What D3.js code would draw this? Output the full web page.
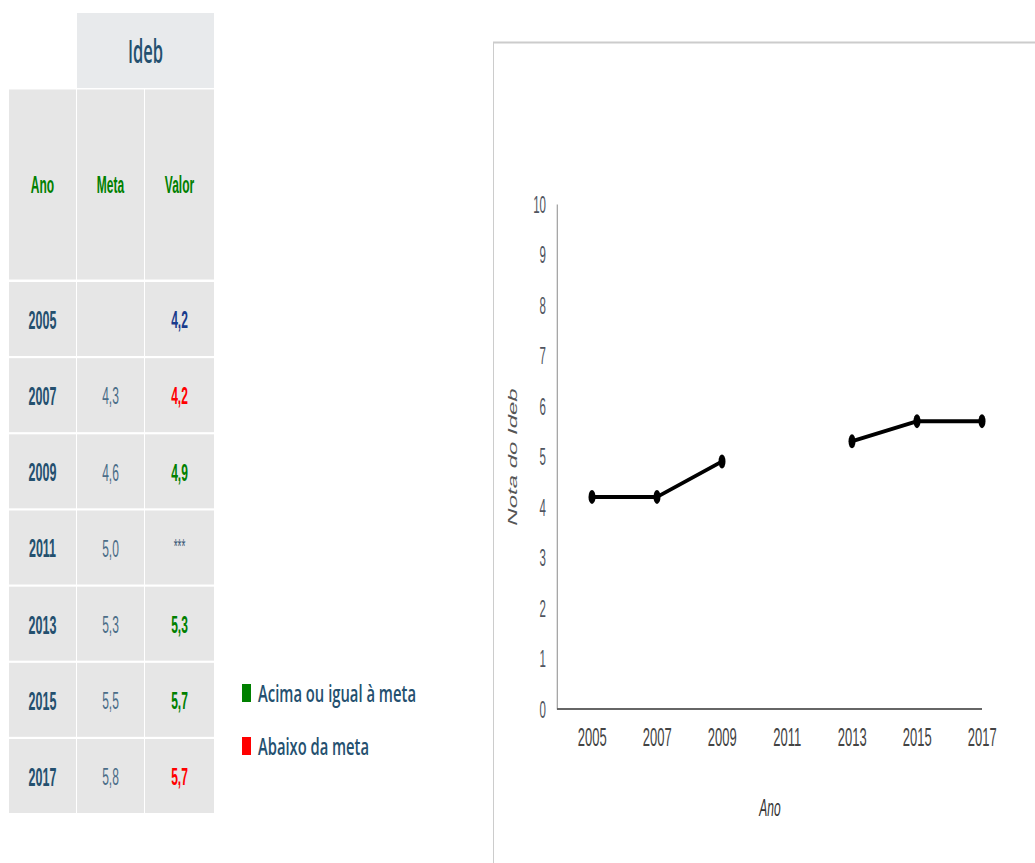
<!DOCTYPE html>
<html><head><meta charset="utf-8">
<script src="https://cdn.jsdelivr.net/npm/d3@7"></script>
<style>html,body{margin:0;padding:0;background:#fff;overflow:hidden}</style>
</head><body>
<svg id="c" width="1035" height="863"></svg>
<script>
// ---------- data ----------
const years = [2005, 2007, 2009, 2011, 2013, 2015, 2017];
const meta  = [null, 4.3, 4.6, 5.0, 5.3, 5.5, 5.8];
const valor = [4.2, 4.2, 4.9, null, 5.3, 5.7, 5.7];
const yTicks = [0,1,2,3,4,5,6,7,8,9,10];
const headerLabels = ["Ano", "Meta", "Valor"];
const groupLabel = "Ideb";
const legendLabels = ["Acima ou igual à meta", "Abaixo da meta"];
const axisTitles = {x: "Ano", y: "Nota do Ideb"};

// ---------- helpers ----------
const S = 0.5;                 // the picture is compressed horizontally
const X = v => v / S;          // image px -> natural units
const fmt = v => v == null ? "" : v.toFixed(1).replace(".", ",");
const cGreen = "#008000", cRed = "#ff0000", cBlue = "#1a3b8c";
const cYear = "#24506f", cMeta = "#4b6d88";

const svg = d3.select("#c");
const root = svg.append("g").attr("transform", `scale(${S},1)`);

// ---------- table ----------
const colX = [[9,76],[77,144],[145,214]];
const rowTop = d3.scaleLinear().domain([0, years.length - 1]).range([282, 739]);
const rowH = 74;
const T = root.append("g");

// group header
T.append("rect").attr("x", X(77)).attr("y", 13).attr("width", X(214) - X(77)).attr("height", 75).attr("fill", "#e8eaec");
T.append("text").attr("x", X(145.5)).attr("y", 50).attr("text-anchor", "middle").attr("dominant-baseline", "central")
  .attr("font-family", "Open Sans").attr("font-weight", 600).attr("font-size", 33).attr("fill", cYear).text(groupLabel);

// header row
headerLabels.forEach((h, i) => {
  T.append("rect").attr("x", X(colX[i][0])).attr("y", 89.5).attr("width", X(colX[i][1]) - X(colX[i][0])).attr("height", 190).attr("fill", "#e6e6e6");
  T.append("text").attr("x", X((colX[i][0] + colX[i][1]) / 2)).attr("y", 185).attr("text-anchor", "middle").attr("dominant-baseline", "central")
    .attr("font-family", "Liberation Sans, Arial").attr("font-weight", "bold").attr("font-size", 24).attr("fill", cGreen).text(h);
});

// data rows
years.forEach((yr, r) => {
  const top = rowTop(r);
  colX.forEach(c => {
    T.append("rect").attr("x", X(c[0])).attr("y", top).attr("width", X(c[1]) - X(c[0])).attr("height", rowH).attr("fill", "#e6e6e6");
  });
  const cy = top + rowH / 2 + 1;
  T.append("text").attr("x", X((colX[0][0] + colX[0][1]) / 2)).attr("y", cy).attr("text-anchor", "middle").attr("dominant-baseline", "central")
    .attr("font-family", "Liberation Sans, Arial").attr("font-weight", "bold").attr("font-size", 25).attr("fill", cYear).text(yr);
  T.append("text").attr("x", X((colX[1][0] + colX[1][1]) / 2)).attr("y", cy).attr("text-anchor", "middle").attr("dominant-baseline", "central")
    .attr("font-family", "Liberation Sans, Arial").attr("font-size", 24).attr("fill", cMeta).text(fmt(meta[r]));
  const v = valor[r], m = meta[r];
  let col = cBlue;
  if (v != null && m != null) col = v >= m ? cGreen : cRed;
  T.append("text").attr("x", X((colX[2][0] + colX[2][1]) / 2)).attr("y", v == null ? cy - 2 : cy).attr("text-anchor", "middle").attr("dominant-baseline", "central")
    .attr("font-family", "Liberation Sans, Arial").attr("font-weight", v == null ? "normal" : "bold").attr("font-size", v == null ? 20 : 24)
    .attr("fill", v == null ? "#3d5a78" : col).text(v == null ? "***" : fmt(v));
});

// legend
[[cGreen, 684, 158], [cRed, 737, 111]].forEach((d, i) => {
  root.append("rect").attr("x", X(242)).attr("y", d[1]).attr("width", X(251) - X(242)).attr("height", 18).attr("fill", d[0]);
  root.append("text").attr("x", X(258)).attr("y", d[1] + 18).attr("font-family", "Open Sans").attr("font-weight", 600)
    .attr("font-size", 24).attr("fill", cYear).attr("textLength", X(d[2])).attr("lengthAdjust", "spacingAndGlyphs").text(legendLabels[i]);
});

// ---------- chart ----------
root.append("rect").attr("x", X(493.5)).attr("y", 42.5).attr("width", X(1100) - X(493.5)).attr("height", 900)
  .attr("fill", "none").attr("stroke", "#cccccc").attr("stroke-width", 2);

const x = d3.scalePoint().domain(years).range([X(592), X(982)]);
const y = d3.scaleLinear().domain([0, 10]).range([709, 204]);
const axX0 = X(557);

const gy = root.append("g").attr("transform", `translate(${axX0},0)`)
  .call(d3.axisLeft(y).tickValues(yTicks).tickSize(0).tickSizeOuter(0).tickPadding(X(11)).tickFormat(d3.format("d")));
gy.select(".domain").attr("stroke", "#8a8a8a").attr("stroke-width", 2);
gy.selectAll("text").attr("font-family", "Liberation Sans, Arial").attr("font-size", 23).attr("fill", "#505560").attr("dy", "0.36em");

const gx = root.append("g").attr("transform", `translate(0,709)`)
  .call(d3.axisBottom(x).tickSize(0).tickSizeOuter(0).tickPadding(0));
gx.select(".domain").remove();
gx.selectAll("text").attr("font-family", "Liberation Sans, Arial").attr("font-size", 26).attr("fill", "#444")
  .attr("y", 28).attr("dy", "0.36em");
root.append("line").attr("x1", axX0).attr("x2", x(years[years.length - 1])).attr("y1", 709).attr("y2", 709)
  .attr("stroke", "#666").attr("stroke-width", 2);

// axis titles
root.append("text").attr("x", X(770)).attr("y", 808).attr("text-anchor", "middle").attr("dominant-baseline", "central")
  .attr("font-family", "Liberation Sans, Arial").attr("font-style", "italic").attr("font-size", 24).attr("fill", "#333").text(axisTitles.x);
root.append("text").attr("transform", `translate(${X(513)},457) rotate(-90)`).attr("text-anchor", "middle").attr("dominant-baseline", "central")
  .attr("font-family", "Liberation Sans, Arial").attr("font-style", "italic").attr("font-size", 24).attr("fill", "#555").text(axisTitles.y);

// series
const pts = years.map((yr, i) => ({yr, v: valor[i]}));
const line = d3.line().defined(d => d.v != null).x(d => x(d.yr)).y(d => y(d.v));
root.append("path").datum(pts).attr("d", line).attr("fill", "none").attr("stroke", "#000").attr("stroke-width", 4);
root.selectAll("circle.pt").data(pts.filter(d => d.v != null)).join("circle").attr("class", "pt")
  .attr("cx", d => x(d.yr)).attr("cy", d => y(d.v)).attr("r", 7).attr("fill", "#000");
</script>
</body></html>
